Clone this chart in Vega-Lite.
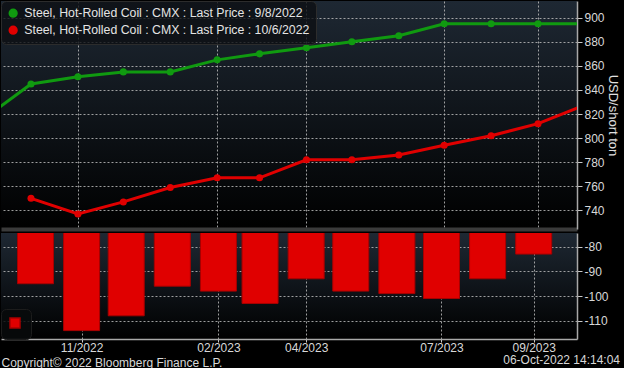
{
  "$schema": "https://vega.github.io/schema/vega-lite/v6.json",
  "background": "#000000",
  "padding": {"left": 0, "top": 0, "right": 4, "bottom": 0},
  "spacing": 4,
  "config": {
    "font": "Liberation Sans",
    "view": {
      "stroke": null,
      "fill": {"gradient": "linear", "x1": 0, "y1": 0, "x2": 0, "y2": 1,
        "stops": [{"offset": 0, "color": "#1e2833"}, {"offset": 1, "color": "#000000"}]}
    },
    "axis": {
      "labelColor": "#d8d8d8", "labelFontSize": 12, "titleColor": "#e0e0e0",
      "titleFontWeight": "normal", "gridColor": "#b8b8b8", "gridDash": [2, 2], "gridOpacity": 0.85,
      "domainColor": "#a8a8a8", "tickColor": "#c8c8c8"
    }
  },
  "datasets": {
    "curves": [
      {"contract": "2022-09-01", "series": "Steel, Hot-Rolled Coil : CMX : Last Price : 9/8/2022", "price": 817},
      {"contract": "2022-10-01", "series": "Steel, Hot-Rolled Coil : CMX : Last Price : 9/8/2022", "price": 845},
      {"contract": "2022-11-01", "series": "Steel, Hot-Rolled Coil : CMX : Last Price : 9/8/2022", "price": 851},
      {"contract": "2022-12-01", "series": "Steel, Hot-Rolled Coil : CMX : Last Price : 9/8/2022", "price": 855},
      {"contract": "2023-01-01", "series": "Steel, Hot-Rolled Coil : CMX : Last Price : 9/8/2022", "price": 855},
      {"contract": "2023-02-01", "series": "Steel, Hot-Rolled Coil : CMX : Last Price : 9/8/2022", "price": 865},
      {"contract": "2023-03-01", "series": "Steel, Hot-Rolled Coil : CMX : Last Price : 9/8/2022", "price": 870},
      {"contract": "2023-04-01", "series": "Steel, Hot-Rolled Coil : CMX : Last Price : 9/8/2022", "price": 875},
      {"contract": "2023-05-01", "series": "Steel, Hot-Rolled Coil : CMX : Last Price : 9/8/2022", "price": 880},
      {"contract": "2023-06-01", "series": "Steel, Hot-Rolled Coil : CMX : Last Price : 9/8/2022", "price": 885},
      {"contract": "2023-07-01", "series": "Steel, Hot-Rolled Coil : CMX : Last Price : 9/8/2022", "price": 895},
      {"contract": "2023-08-01", "series": "Steel, Hot-Rolled Coil : CMX : Last Price : 9/8/2022", "price": 895},
      {"contract": "2023-09-01", "series": "Steel, Hot-Rolled Coil : CMX : Last Price : 9/8/2022", "price": 895},
      {"contract": "2023-10-01", "series": "Steel, Hot-Rolled Coil : CMX : Last Price : 9/8/2022", "price": 895},
      {"contract": "2022-10-01", "series": "Steel, Hot-Rolled Coil : CMX : Last Price : 10/6/2022", "price": 750},
      {"contract": "2022-11-01", "series": "Steel, Hot-Rolled Coil : CMX : Last Price : 10/6/2022", "price": 737},
      {"contract": "2022-12-01", "series": "Steel, Hot-Rolled Coil : CMX : Last Price : 10/6/2022", "price": 747},
      {"contract": "2023-01-01", "series": "Steel, Hot-Rolled Coil : CMX : Last Price : 10/6/2022", "price": 759},
      {"contract": "2023-02-01", "series": "Steel, Hot-Rolled Coil : CMX : Last Price : 10/6/2022", "price": 767},
      {"contract": "2023-03-01", "series": "Steel, Hot-Rolled Coil : CMX : Last Price : 10/6/2022", "price": 767},
      {"contract": "2023-04-01", "series": "Steel, Hot-Rolled Coil : CMX : Last Price : 10/6/2022", "price": 782},
      {"contract": "2023-05-01", "series": "Steel, Hot-Rolled Coil : CMX : Last Price : 10/6/2022", "price": 782},
      {"contract": "2023-06-01", "series": "Steel, Hot-Rolled Coil : CMX : Last Price : 10/6/2022", "price": 786},
      {"contract": "2023-07-01", "series": "Steel, Hot-Rolled Coil : CMX : Last Price : 10/6/2022", "price": 794},
      {"contract": "2023-08-01", "series": "Steel, Hot-Rolled Coil : CMX : Last Price : 10/6/2022", "price": 802},
      {"contract": "2023-09-01", "series": "Steel, Hot-Rolled Coil : CMX : Last Price : 10/6/2022", "price": 812},
      {"contract": "2023-10-01", "series": "Steel, Hot-Rolled Coil : CMX : Last Price : 10/6/2022", "price": 827}
    ],
    "spread": [
      {"contract": "2022-10-01", "name": "Spread", "diff": -95},
      {"contract": "2022-11-01", "name": "Spread", "diff": -114},
      {"contract": "2022-12-01", "name": "Spread", "diff": -108},
      {"contract": "2023-01-01", "name": "Spread", "diff": -96},
      {"contract": "2023-02-01", "name": "Spread", "diff": -98},
      {"contract": "2023-03-01", "name": "Spread", "diff": -103},
      {"contract": "2023-04-01", "name": "Spread", "diff": -93},
      {"contract": "2023-05-01", "name": "Spread", "diff": -98},
      {"contract": "2023-06-01", "name": "Spread", "diff": -99},
      {"contract": "2023-07-01", "name": "Spread", "diff": -101},
      {"contract": "2023-08-01", "name": "Spread", "diff": -93},
      {"contract": "2023-09-01", "name": "Spread", "diff": -83}
    ]
  },
  "title": {
    "text": "06-Oct-2022 14:14:04", "orient": "bottom", "anchor": "end", "offset": -13, "dx": 2,
    "fontSize": 12, "fontWeight": "normal", "color": "#d8d8d8", "font": "Liberation Sans"
  },
  "resolve": {"scale": {"color": "independent"}, "legend": {"color": "independent"}},
  "vconcat": [
    {
      "width": 576,
      "height": 228,
      "data": {"name": "curves"},
      "encoding": {
        "x": {
          "field": "contract", "type": "temporal",
          "scale": {"type": "utc", "domain": [
            {"year": 2022, "month": 9, "date": 11, "hours": 4, "utc": true},
            {"year": 2023, "month": 9, "date": 26, "hours": 18, "utc": true}]},
          "axis": {
            "values": [
              {"year": 2022, "month": 11, "date": 1, "utc": true},
              {"year": 2023, "month": 2, "date": 1, "utc": true},
              {"year": 2023, "month": 4, "date": 1, "utc": true},
              {"year": 2023, "month": 7, "date": 1, "utc": true},
              {"year": 2023, "month": 9, "date": 1, "utc": true}],
            "labels": false, "ticks": false, "title": null, "grid": true,
            "domain": true, "domainColor": "#3a3a3a", "domainWidth": 4
          }
        },
        "y": {
          "field": "price", "type": "quantitative",
          "scale": {"domain": [724.5, 913.9], "zero": false, "nice": false},
          "axis": {
            "orient": "right", "values": [740, 760, 780, 800, 820, 840, 860, 880, 900],
            "title": "USD/short ton", "titleFontSize": 13, "titlePadding": 1,
            "tickSize": 5, "labelPadding": 2, "domainWidth": 1.5
          }
        },
        "color": {
          "field": "series", "type": "nominal",
          "scale": {
            "domain": ["Steel, Hot-Rolled Coil : CMX : Last Price : 9/8/2022", "Steel, Hot-Rolled Coil : CMX : Last Price : 10/6/2022"],
            "range": ["#109a10", "#e00000"]
          },
          "legend": {
            "orient": "top-left", "offset": 0, "title": null, "padding": 6,
            "fillColor": "rgba(12,15,19,0.8)", "strokeColor": "#2c2c2c", "cornerRadius": 5,
            "symbolType": "circle", "symbolSize": 60, "labelFontSize": 12.3, "labelColor": "#e4e4e4",
            "labelLimit": 400, "rowPadding": 2, "labelOffset": 5
          }
        }
      },
      "layer": [
        {"mark": {"type": "line", "strokeWidth": 3, "clip": true}},
        {"mark": {"type": "circle", "size": 50, "opacity": 1, "clip": true}}
      ]
    },
    {
      "width": 576,
      "height": 106,
      "data": {"name": "spread"},
      "mark": {"type": "bar", "width": 36, "clip": true, "stroke": "#a80000", "strokeWidth": 1},
      "encoding": {
        "x": {
          "field": "contract", "type": "temporal",
          "scale": {"type": "utc", "domain": [
            {"year": 2022, "month": 9, "date": 11, "hours": 4, "utc": true},
            {"year": 2023, "month": 9, "date": 26, "hours": 18, "utc": true}]},
          "axis": {
            "values": [
              {"year": 2022, "month": 11, "date": 1, "utc": true},
              {"year": 2023, "month": 2, "date": 1, "utc": true},
              {"year": 2023, "month": 4, "date": 1, "utc": true},
              {"year": 2023, "month": 7, "date": 1, "utc": true},
              {"year": 2023, "month": 9, "date": 1, "utc": true}],
            "format": "%m/%Y", "grid": true, "ticks": true, "tickSize": 3, "labelPadding": 0,
            "domainWidth": 1.5,
            "title": "Copyright© 2022 Bloomberg Finance L.P.", "titleAnchor": "start", "titleAlign": "left",
            "titleFontSize": 12, "titleColor": "#d8d8d8", "titlePadding": 4
          }
        },
        "y": {
          "field": "diff", "type": "quantitative",
          "scale": {"domain": [-117.4, -74.45], "zero": false, "nice": false},
          "axis": {
            "orient": "right", "values": [-110, -100, -90, -80], "title": null,
            "labelExpr": "'' + datum.value", "tickSize": 5, "labelPadding": 2, "domainWidth": 1.5
          }
        },
        "y2": {"datum": 0},
        "color": {
          "field": "name", "type": "nominal",
          "scale": {"range": ["#e00000"]},
          "legend": {
            "orient": "bottom-left", "offset": 0, "title": null, "padding": 8,
            "fillColor": "rgba(8,10,12,0.85)", "strokeColor": "#1c1c1c", "cornerRadius": 5,
            "symbolType": "square", "symbolSize": 100, "symbolStrokeColor": "#a80000",
            "labelExpr": "''", "labelOffset": 0, "labelFontSize": 1
          }
        }
      }
    }
  ]
}
